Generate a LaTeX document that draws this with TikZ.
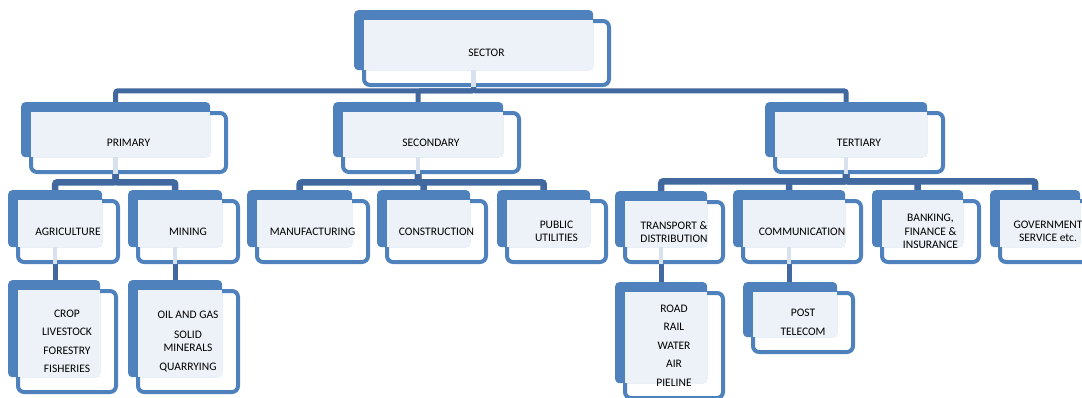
\documentclass[tikz,border=0pt]{standalone}
\usepackage{fontspec}
\setmainfont{Carlito}
\usetikzlibrary{calc}
\definecolor{boxblue}{HTML}{4F81BD}
\definecolor{linkblue}{HTML}{41699F}
\definecolor{lightfill}{HTML}{EDF1F8}
\definecolor{palestub}{HTML}{D8E1EE}
\pgfdeclarelayer{bg}
\pgfsetlayers{bg,main}
\tikzset{
  backbox/.style={fill=boxblue, rounded corners=4pt, inner sep=0pt, anchor=north west},
  frontbox/.style={draw=boxblue, line width=4pt, fill=white, rounded corners=6pt, inner sep=0pt, anchor=north west},
  boxtext/.style={font=\fontsize{11.5}{13.5}\selectfont, align=center, text=black, inner sep=0pt},
  conn/.style={draw=linkblue, line width=5pt, rounded corners=2pt},
  subconn/.style={draw=linkblue, line width=6.5pt, rounded corners=2pt},
  pale/.style={draw=palestub, line width=4.5pt},
}
\newcommand{\obox}[6]{%
  \node[frontbox, minimum width={#4-#2+6}, minimum height={#5-#3+4}] (#1F) at (#2+8,#3+9) {};
  \node[backbox, minimum width={#4-#2}, minimum height={#5-#3}] (#1) at (#2,#3) {};
  \fill[lightfill] (#2+10,#3+10) rectangle (#4,#5);
  \node[boxtext] (#1T) at (#1F.center) {#6};
}
\newcommand{\palestub}[1]{\draw[pale] (#1.south) -- (#1.south |- #1F.south);}
\begin{document}
\begin{tikzpicture}[x=1pt,y=-1pt]
\useasboundingbox (0,0) rectangle (1082,397);
% level 0
\obox{sector}{354}{10}{593}{70}{SECTOR}
% level 1
\obox{primary}{21}{102}{210}{157}{PRIMARY}
\obox{secondary}{333}{102}{503}{157}{SECONDARY}
\obox{tertiary}{765}{102}{927}{157}{TERTIARY}
% level 2
\obox{agri}{8}{190}{102}{247}{AGRICULTURE}
\obox{mining}{128}{190}{222}{247}{MINING}
\obox{manuf}{247}{190}{352}{247}{MANUFACTURING}
\obox{constr}{377}{190}{470}{247}{CONSTRUCTION}
\obox{public}{497}{190}{590}{247}{PUBLIC\\UTILITIES}
\obox{transport}{615}{191}{707}{247}{TRANSPORT \&\\DISTRIBUTION}
\obox{comm}{733}{190}{845}{247}{COMMUNICATION}
\obox{bank}{872}{190}{963}{247}{BANKING,\\FINANCE \&\\INSURANCE}
\obox{gov}{990}{190}{1080}{247}{GOVERNMENT\\SERVICE etc.}
% level 3
\obox{crop}{8}{280}{100}{377}{CROP\\[5pt]LIVESTOCK\\[5pt]FORESTRY\\[5pt]FISHERIES}
\obox{oil}{128}{280}{222}{377}{OIL AND GAS\\[6pt]SOLID\\MINERALS\\[5pt]QUARRYING}
\obox{road}{615}{282}{707}{383}{ROAD\\[5pt]RAIL\\[5pt]WATER\\[5pt]AIR\\[5pt]PIELINE}
\obox{post}{743}{282}{837}{337}{POST\\[6pt]TELECOM}
% pale stubs through the white margin
\palestub{sector}
\palestub{primary}
\palestub{secondary}
\palestub{tertiary}
\palestub{agri}
\palestub{mining}
\palestub{transport}
\palestub{comm}
% connectors
\begin{pgfonlayer}{bg}
\draw[conn] (sector.south) -- ++(0,20.5) -| (primary.north);
\draw[conn] (sector.south) -- ++(0,20.5) -| (secondary.north);
\draw[conn] (sector.south) -- ++(0,20.5) -| (tertiary.north);
\draw[subconn] (primary.south) -- ++(0,25) -| (agri.north);
\draw[subconn] (primary.south) -- ++(0,25) -| (mining.north);
\draw[subconn] (secondary.south) -- ++(0,25) -| (manuf.north);
\draw[subconn] (secondary.south) -- ++(0,25) -| (constr.north);
\draw[subconn] (secondary.south) -- ++(0,25) -| (public.north);
\draw[subconn] (tertiary.south) -- ++(0,24) -| (transport.north);
\draw[subconn] (tertiary.south) -- ++(0,24) -| (comm.north);
\draw[subconn] (tertiary.south) -- ++(0,24) -| (bank.north);
\draw[subconn] (tertiary.south) -- ++(0,24) -| (gov.north);
\draw[conn] (agri.south) -- (agri.south |- crop.north);
\draw[conn] (mining.south) -- (mining.south |- oil.north);
\draw[conn] (transport.south) -- (transport.south |- road.north);
\draw[conn] (comm.south) -- (comm.south |- post.north);
\end{pgfonlayer}
\end{tikzpicture}
\end{document}
